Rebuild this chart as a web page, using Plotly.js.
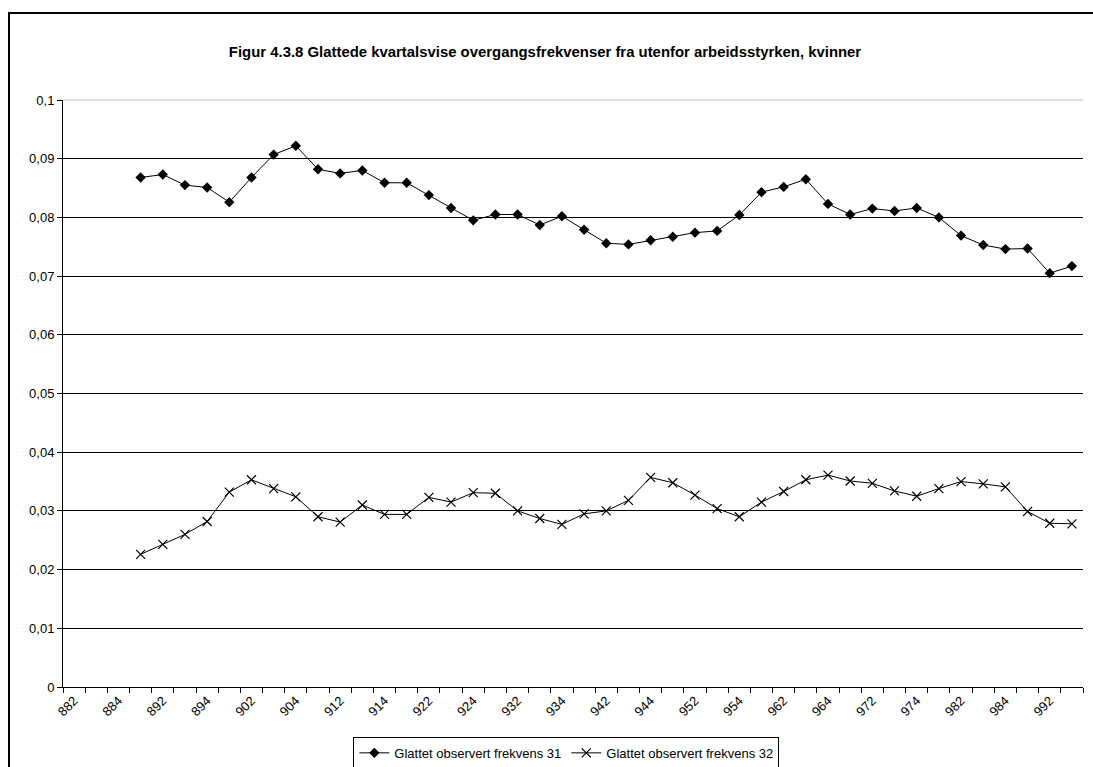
<!DOCTYPE html>
<html>
<head>
<meta charset="utf-8">
<script src="https://cdn.plot.ly/plotly-3.0.1.min.js"></script>
<style>
  html, body { margin: 0; padding: 0; background: #fff; overflow: hidden; width: 1093px; height: 767px; }
  #frame { position: absolute; left: 8px; top: 12px; width: 1095px; height: 765px; border: 2px solid #000; background: #fff; }
  #chart { width: 1095px; height: 765px; }
</style>
</head>
<body>
<div id="frame"><div id="chart"></div></div>
<script>
// Categories (year+quarter codes) on the x axis
const categories = [
  "882","883","884",
  "891","892","893","894",
  "901","902","903","904",
  "911","912","913","914",
  "921","922","923","924",
  "931","932","933","934",
  "941","942","943","944",
  "951","952","953","954",
  "961","962","963","964",
  "971","972","973","974",
  "981","982","983","984",
  "991","992","993"
];

// Tick labels: every other category is labelled
const tickLabels = categories.map((c, i) => (i % 2 === 0 ? c : ""));

// Categories with observations (891 .. 993)
const dataCategories = categories.slice(3);

// Glattet observert frekvens 31
const series31 = [
  0.0868, 0.0873, 0.0855, 0.0851, 0.0826, 0.0868, 0.0907, 0.0922, 0.0882, 0.0875,
  0.0880, 0.0859, 0.0859, 0.0838, 0.0816, 0.0795, 0.0805, 0.0805, 0.0787, 0.0802,
  0.0779, 0.0756, 0.0754, 0.0761, 0.0767, 0.0774, 0.0777, 0.0804, 0.0843, 0.0852,
  0.0865, 0.0823, 0.0805, 0.0815, 0.0811, 0.0816, 0.0800, 0.0769, 0.0753, 0.0746,
  0.0747, 0.0705, 0.0717
];

// Glattet observert frekvens 32
const series32 = [
  0.0226, 0.0243, 0.0260, 0.0282, 0.0332, 0.0353, 0.0338, 0.0324, 0.0290, 0.0281,
  0.0310, 0.0294, 0.0294, 0.0323, 0.0315, 0.0331, 0.0330, 0.0300, 0.0287, 0.0277,
  0.0295, 0.0300, 0.0318, 0.0357, 0.0348, 0.0327, 0.0304, 0.0290, 0.0315, 0.0333,
  0.0353, 0.0361, 0.0351, 0.0347, 0.0334, 0.0325, 0.0338, 0.0350, 0.0346, 0.0341,
  0.0299, 0.0279, 0.0278
];

const seriesNames = ["Glattet observert frekvens 31", "Glattet observert frekvens 32"];

const yTickVals = [0, 0.01, 0.02, 0.03, 0.04, 0.05, 0.06, 0.07, 0.08, 0.09, 0.1];
const yTickText = ["0", "0,01", "0,02", "0,03", "0,04", "0,05", "0,06", "0,07", "0,08", "0,09", "0,1"];

const titleText = "Figur 4.3.8 Glattede kvartalsvise overgangsfrekvenser fra utenfor arbeidsstyrken, kvinner";

const FONT = "Arial, 'Liberation Sans', sans-serif";

const traces = [
  {
    type: "scatter", mode: "lines+markers", name: seriesNames[0],
    x: dataCategories, y: series31,
    line: { color: "#000", width: 1 },
    marker: { symbol: "diamond", size: 8, color: "#000" }
  },
  {
    type: "scatter", mode: "lines+markers", name: seriesNames[1],
    x: dataCategories, y: series32,
    line: { color: "#000", width: 1 },
    marker: { symbol: "x-thin-open", size: 9, color: "#000", line: { color: "#000", width: 1.2 } }
  }
];

const layout = {
  width: 1095, height: 765,
  margin: { l: 53, r: 22, t: 86, b: 92, autoexpand: false },
  paper_bgcolor: "#fff", plot_bgcolor: "#fff",
  font: { family: FONT, size: 13, color: "#000" },
  title: {
    text: "<b>" + titleText + "</b>",
    font: { family: FONT, size: 14.9, color: "#000" },
    x: 0.4886, xref: "container", xanchor: "center",
    y: 0.950, yref: "container", yanchor: "middle"
  },
  xaxis: {
    type: "category",
    categoryorder: "array", categoryarray: categories,
    range: [-0.5, categories.length - 0.5],
    tickmode: "array", tickvals: categories, ticktext: tickLabels,
    tickson: "boundaries",
    ticks: "outside", ticklen: 5, tickcolor: "#000", tickwidth: 1,
    tickangle: -45,
    tickfont: { family: FONT, size: 13, color: "#000" },
    showgrid: false, showline: true, linecolor: "#000", linewidth: 1,
    zeroline: false, fixedrange: true
  },
  yaxis: {
    range: [0, 0.1],
    tickmode: "array", tickvals: yTickVals, ticktext: yTickText,
    ticks: "outside", ticklen: 5, tickcolor: "#000", tickwidth: 1,
    tickfont: { family: FONT, size: 13, color: "#000" },
    showgrid: true, gridcolor: "#000", gridwidth: 1,
    showline: true, linecolor: "#000", linewidth: 1,
    zeroline: false, fixedrange: true
  },
  shapes: [
    { type: "line", xref: "paper", yref: "paper", x0: 0, x1: 1, y0: 1, y1: 1,
      line: { color: "#d4d4d4", width: 1.5 }, layer: "above" }
  ],
  showlegend: true,
  legend: {
    orientation: "h",
    x: 0.4935, xanchor: "center",
    y: -0.085, yanchor: "top",
    bordercolor: "#000", borderwidth: 1, bgcolor: "#fff",
    font: { family: FONT, size: 13, color: "#000" },
    itemwidth: 30, tracegroupgap: 0
  }
};

Plotly.newPlot("chart", traces, layout, { displayModeBar: false, staticPlot: true });
</script>
</body>
</html>
